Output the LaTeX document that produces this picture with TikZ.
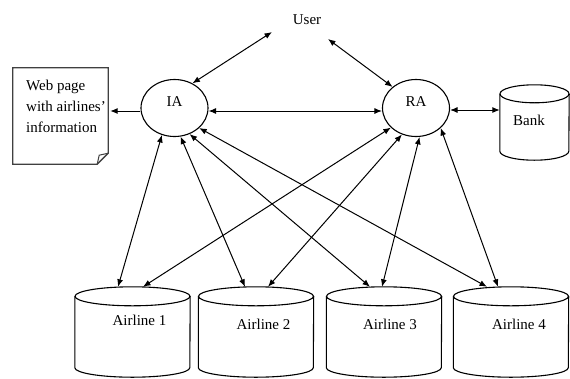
\documentclass[tikz,border=0pt]{standalone}
\usepackage{fontspec}
\setmainfont{Liberation Serif}
\usetikzlibrary{arrows.meta,shapes.geometric}
\newcommand\drumdraw[3]{%
  \draw[lw] ([yshift=-#3]#1.north) ellipse[x radius=#2, y radius=#3];
  \draw[lw] ([yshift=-#3]#1.north west) -- ([yshift=#3]#1.south west)
    arc[start angle=180,end angle=360,x radius=#2,y radius=#3]
    -- ([yshift=-#3]#1.north east);}
\begin{document}
\begin{tikzpicture}[x=1pt,y=1pt,
  lw/.style={line width=1.1pt},
  conn/.style={line width=1pt, {Latex[length=7.5pt,width=6pt]}-{Latex[length=7.5pt,width=6pt]}},
  oneway/.style={line width=1pt, -{Latex[length=7.5pt,width=6pt]}},
  lbl/.style={font=\fontsize{15}{17}\selectfont, inner sep=0pt},
  agent/.style={draw, ellipse, line width=1.1pt, minimum width=67pt, minimum height=57pt,
    inner sep=0pt, text height=10pt, text depth=14pt, font=\fontsize{15}{17}\selectfont},
  drumbox/.style={rectangle, inner sep=0pt, minimum width=115pt, minimum height=90pt}
]
\useasboundingbox (0,0) rectangle (570,-378);

% agents
\node[lbl] (user) at (307,-20) {User};
\node[agent] (IA) at (174.5,-108) {IA};
\node[agent] (RA) at (416,-108) {RA};

% web page
\node[rectangle, inner sep=0pt, minimum width=95pt, minimum height=96pt] (web) at (60.5,-116) {};
\draw[line width=1.3pt, black!75] (web.north west) -- (web.north east) -- ([yshift=11pt]web.south east)
  -- ([xshift=-11pt]web.south east) -- (web.south west) -- cycle;
\draw[line width=1pt, black!75] ([xshift=-11pt]web.south east) -- ++(2,9) -- ([yshift=11pt]web.south east);
\node[lbl, font=\fontsize{15}{21}\selectfont, align=left, anchor=west] (webtext) at (26,-106)
  {Web page\\with airlines'\\information};

% bank
\node[rectangle, inner sep=0pt, minimum width=69pt, minimum height=75pt] (bank) at (534.5,-122.5) {};
\drumdraw{bank}{34.5pt}{9pt}
\node[lbl] (banktext) at (529,-120) {Bank};

% airlines
\node[drumbox] (a1) at (132.5,-332) {};
\node[drumbox] (a2) at (256,-332) {};
\node[drumbox] (a3) at (384,-332) {};
\node[drumbox] (a4) at (511,-332) {};
\drumdraw{a1}{57.5pt}{9.5pt}
\drumdraw{a2}{57.5pt}{9.5pt}
\drumdraw{a3}{57.5pt}{9.5pt}
\drumdraw{a4}{57.5pt}{9.5pt}
\node[lbl] (a1t) at (139.5,-320) {Airline 1};
\node[lbl] (a2t) at (263.5,-324) {Airline 2};
\node[lbl] (a3t) at (390,-324) {Airline 3};
\node[lbl] (a4t) at (519,-324) {Airline 4};

% user arrows
\coordinate (u1) at (272,-32);
\coordinate (u2) at (328,-39);
\draw[conn] (u1) -- (IA.54);
\draw[conn] (u2) -- (RA.138);

% horizontal arrows
\coordinate (iaw) at ([yshift=-3pt]IA.west);
\coordinate (rae) at ([yshift=-2pt]RA.east);
\draw[conn] ([yshift=-3pt]IA.east) -- ([yshift=-3pt]RA.west);
\draw[oneway] (iaw) -- ([xshift=2pt]iaw -| web.east);
\draw[conn] (rae) -- (rae -| bank.west);

% IA to airlines
\draw[conn] (IA.245) -- ([xshift=-14.5pt]a1.north);
\draw[conn] (IA.282) -- ([xshift=-11pt]a2.north);
\draw[conn] (IA.300) -- ([xshift=-14pt]a3.north);
\draw[conn] (IA.321) -- ([xshift=-24pt]a4.north);
% RA to airlines
\draw[conn] (RA.218) -- ([xshift=10.5pt]a1.north);
\draw[conn] (RA.242) -- ([xshift=12pt]a2.north);
\draw[conn] (RA.277) -- ([xshift=-2pt]a3.north);
\draw[conn] (RA.321) -- ([xshift=-13pt]a4.north);
\end{tikzpicture}
\end{document}
